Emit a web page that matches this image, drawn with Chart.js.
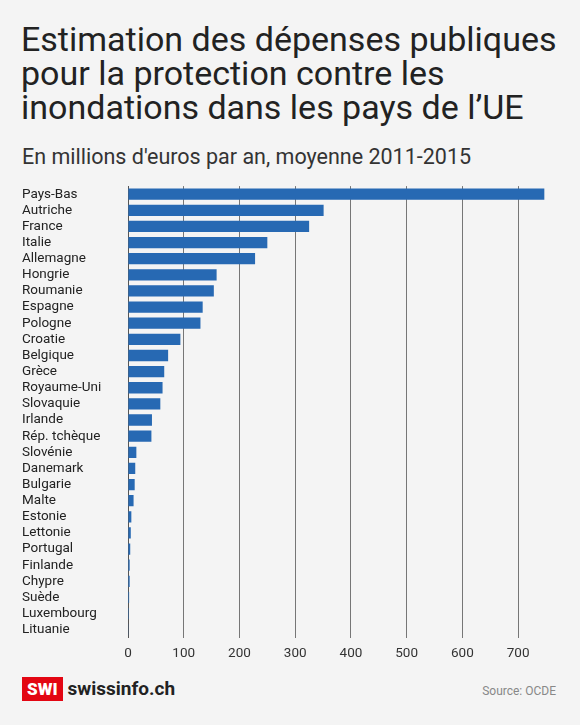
<!DOCTYPE html>
<html><head><meta charset="utf-8">
<script src="https://cdn.jsdelivr.net/npm/chart.js@4"></script>
<style>
body{margin:0;width:580px;height:725px;background:#f4f4f4;font-family:Roboto,"Noto Sans",sans-serif;position:relative;overflow:hidden}
#t{position:absolute;left:21px;top:22px;font-size:34px;line-height:34px;color:#222;font-weight:400}
#s{position:absolute;left:22px;top:144px;font-size:21.5px;color:#333}
#c{position:absolute;left:22px;top:172px;width:524px;height:498px}
#logo{position:absolute;left:22px;top:676px;height:25px;display:flex;align-items:center}
#logo b{background:#e30613;color:#fff;font-size:17px;padding:2px 5px;margin-right:5px;font-weight:900}
#logo span{font-size:19px;font-weight:700;color:#222}
#src{position:absolute;right:24px;top:684px;font-size:12px;color:#888}
</style></head><body>
<div id="t">Estimation des dépenses publiques<br>pour la protection contre les<br>inondations dans les pays de l’UE</div>
<div id="s">En millions d'euros par an, moyenne 2011-2015</div>
<div id="c"><canvas id="cv"></canvas></div>
<div id="logo"><b>SWI</b><span>swissinfo.ch</span></div>
<div id="src">Source: OCDE</div>
<script>
const categories=["Pays-Bas","Autriche","France","Italie","Allemagne","Hongrie","Roumanie","Espagne","Pologne","Croatie","Belgique","Grèce","Royaume-Uni","Slovaquie","Irlande","Rép. tchèque","Slovénie","Danemark","Bulgarie","Malte","Estonie","Lettonie","Portugal","Finlande","Chypre","Suède","Luxembourg","Lituanie"];
const values=[747,351,325,250,228,159,154,134,130,94,72,65,62,58,43,42,15,13,12,10,6,5,4,3,3,2,1.5,1];
const ticks=[0,100,200,300,400,500,600,700];
new Chart(document.getElementById('cv'),{type:'bar',
data:{labels:categories,datasets:[{data:values,backgroundColor:'#2769b3',barPercentage:0.7,categoryPercentage:1}]},
options:{indexAxis:'y',responsive:true,maintainAspectRatio:false,animation:false,
plugins:{legend:{display:false},tooltip:{enabled:false}},
scales:{x:{min:0,max:750,afterBuildTicks:a=>{a.ticks=ticks.map(v=>({value:v}))},
grid:{color:'#555',lineWidth:0.8,drawTicks:false},border:{display:false},
ticks:{color:'#333',font:{size:13.5,family:'Roboto'},padding:8}},
y:{afterFit:a=>{a.width=106},grid:{display:false},border:{color:'#555'},ticks:{color:'#222',font:{size:13.5,family:'Roboto'},crossAlign:'far',autoSkip:false,padding:6}}}}});
</script></body></html>
